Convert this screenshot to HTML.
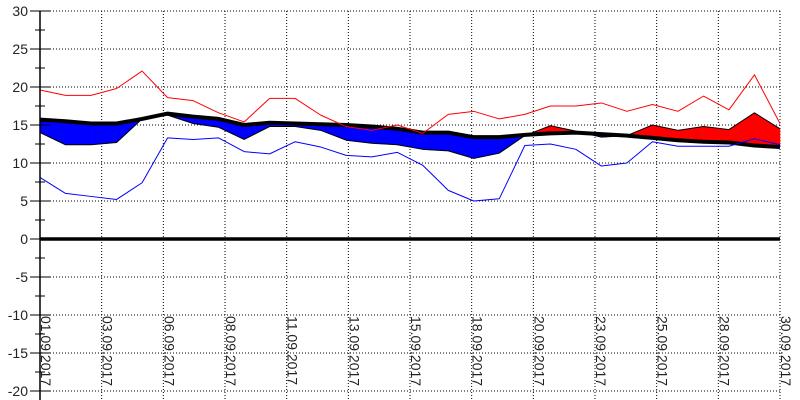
<!DOCTYPE html>
<html><head><meta charset="utf-8"><style>
html,body{margin:0;padding:0;background:#fff;}
svg{display:block;font-family:"Liberation Sans",sans-serif;}
</style></head><body>
<svg id="chart" width="800" height="400" viewBox="0 0 800 400" xmlns="http://www.w3.org/2000/svg">
<g id="grid"></g>
<g id="fills"></g>
<g id="lines"></g>
<g id="axes"></g>
</svg>
<script>
const days = [1,2,3,4,5,6,7,8,9,10,11,12,13,14,15,16,17,18,19,20,21,22,23,24,25,26,27,28,29,30];
const maxTemp = [19.6,18.9,18.9,19.8,22.1,18.6,18.2,16.6,15.4,18.5,18.5,16.3,14.8,14.3,15.0,13.9,16.4,16.8,15.8,16.4,17.5,17.5,17.9,16.8,17.7,16.8,18.8,17.0,21.6,15.2];
const minTemp = [8.1,6.0,5.6,5.2,7.4,13.3,13.1,13.3,11.5,11.2,12.8,12.1,11.0,10.8,11.4,9.7,6.4,5.0,5.3,12.3,12.5,11.8,9.6,10.0,12.8,12.2,12.2,12.2,13.2,12.4];
const meanTemp = [14.0,12.4,12.4,12.7,15.8,16.3,15.2,14.7,13.1,14.8,14.8,14.3,13.0,12.6,12.4,11.8,11.6,10.6,11.3,13.6,14.9,14.2,13.4,13.6,15.0,14.3,14.8,14.4,16.6,14.5];
const normalTemp = [15.7,15.5,15.2,15.2,15.8,16.5,16.1,15.8,15.0,15.3,15.2,15.1,15.0,14.8,14.5,14.0,14.0,13.4,13.4,13.7,13.9,14.0,13.8,13.6,13.3,13.0,12.8,12.7,12.3,12.1];
const yTicks = [30,25,20,15,10,5,0,-5,-10,-15,-20];
const xLabels = ["01.09.2017","03.09.2017","06.09.2017","08.09.2017","11.09.2017","13.09.2017","15.09.2017","18.09.2017","20.09.2017","23.09.2017","25.09.2017","28.09.2017","30.09.2017"];

const NS="http://www.w3.org/2000/svg";
const X0=40,X1=780;
const xs=d=>X0+(d-1)*(X1-X0)/29;
const ys=v=>239-v*7.6;
function mk(tag,attrs,parent){const e=document.createElementNS(NS,tag);for(const k in attrs)e.setAttribute(k,attrs[k]);parent.appendChild(e);return e;}
const grid=document.getElementById('grid'),fills=document.getElementById('fills'),lines=document.getElementById('lines'),axes=document.getElementById('axes');

yTicks.forEach(t=>{
  const y=ys(t);
  const g=mk('line',{x1:50,x2:X1,y1:y,y2:y,stroke:'#000','stroke-width':1,'stroke-dasharray':'1,2'},grid);
  
  
  const tk=mk('line',{x1:30,x2:50,y1:y,y2:y,stroke:'#000','stroke-width':1},axes);
  
  
  if(t>-20){const m=ys(t-2.5);const mt=mk('line',{x1:35,x2:45,y1:m,y2:m,stroke:'#000','stroke-width':1},axes);
  
  }
  const tx=mk('text',{x:28,y:y+5,'text-anchor':'end','font-size':14,fill:'#222'},axes);
  tx.textContent=t;
  
  
});
xLabels.forEach((l,i)=>{
  const x=X0+i*(X1-X0)/12;
  if(i>0){const g=mk('line',{x1:x,x2:x,y1:ys(30),y2:400,stroke:'#000','stroke-width':1,'stroke-dasharray':'1,2'},grid);
  
  }
  const tx=mk('text',{x:0,y:0,'font-size':14,fill:'#222',transform:`translate(${x+1},316) rotate(90)`},axes);
  tx.textContent=l;
  
  
});
// fills between mean and normal
for(let i=0;i<days.length-1;i++){
  const xa=xs(days[i]),xb=xs(days[i+1]);
  const da=meanTemp[i]-normalTemp[i],db=meanTemp[i+1]-normalTemp[i+1];
  const segs=[];
  if(da*db<0){const f=da/(da-db);segs.push([0,f]);segs.push([f,1]);}else segs.push([0,1]);
  segs.forEach(([a,b])=>{
    const ip=(arr,t)=>arr[i]+(arr[i+1]-arr[i])*t;
    const xa2=xa+(xb-xa)*a,xb2=xa+(xb-xa)*b;
    const mid=(a+b)/2;
    const above=ip(meanTemp,mid)>ip(normalTemp,mid);
    const p=mk('polygon',{points:`${xa2},${ys(ip(meanTemp,a))} ${xb2},${ys(ip(meanTemp,b))} ${xb2},${ys(ip(normalTemp,b))} ${xa2},${ys(ip(normalTemp,a))}`,fill:above?'#ff0000':'#0000ff',stroke:above?'#ff0000':'#0000ff','stroke-width':0.5},fills);
    
    
  });
}
function poly(arr,color,w,name){
  const p=mk('polyline',{points:arr.map((v,i)=>xs(days[i])+','+ys(v)).join(' '),fill:'none',stroke:color,'stroke-width':w,'stroke-linejoin':'round'},lines);
  
  
}
poly(meanTemp,'#000',1,'mean-temp-line');
poly(normalTemp,'#000',4,'normal-temp-line');
poly(maxTemp,'#ff0000',1,'max-temp-line');
poly(minTemp,'#0000ff',1,'min-temp-line');
const ax=mk('line',{x1:X0,x2:X0,y1:ys(30),y2:400,stroke:'#000','stroke-width':1.5},axes);


const z=mk('line',{x1:X0,x2:X1,y1:ys(0),y2:ys(0),stroke:'#000','stroke-width':3.5},axes);


</script>
</body></html>
